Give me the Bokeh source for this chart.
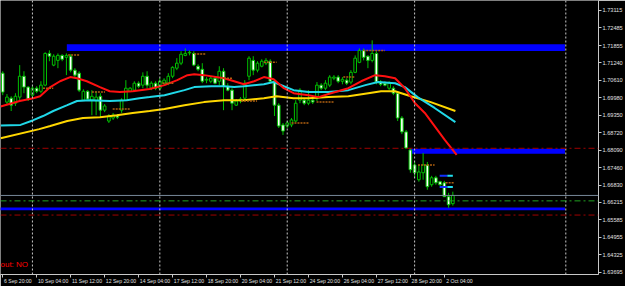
from bokeh.plotting import figure
from bokeh.models import (Range1d, FixedTicker, PrintfTickFormatter, Span, Label,
                          ColumnDataSource, LinearAxis)
from bokeh.embed import file_html
from bokeh.resources import INLINE

# ---------------- data (H4 candles, bar index 0 = 6 Sep 20:00) ----------------
opens = [
    1.7086, 1.6982, 1.6996, 1.6978, 1.7000, 1.7075, 1.7036, 1.7007, 1.7032, 1.7021,
    1.7043, 1.7157, 1.7115, 1.7132, 1.7150, 1.7143, 1.7147, 1.7097, 1.7086, 1.6989,
    1.7021, 1.6989, 1.6986, 1.7003, 1.6953, 1.6914, 1.6925, 1.6935, 1.6953, 1.6989,
    1.7021, 1.7025, 1.7050, 1.7043, 1.7075, 1.7032, 1.7050, 1.7032, 1.7050, 1.7050,
    1.7075, 1.7104, 1.7122, 1.7150, 1.7159, 1.7157, 1.7111, 1.7100, 1.7061, 1.7057,
    1.7068, 1.7057, 1.7093, 1.7039, 1.7025, 1.6971, 1.6986, 1.6996, 1.7075, 1.7132,
    1.7097, 1.7111, 1.7122, 1.7129, 1.7057, 1.6971, 1.6900, 1.6896, 1.6900, 1.6914,
    1.6989, 1.6989, 1.6978, 1.6989, 1.6996, 1.7043, 1.7032, 1.7043, 1.7068, 1.7072,
    1.7057, 1.7061, 1.7054, 1.7089, 1.7125, 1.7168, 1.7147, 1.7132, 1.7157, 1.7054,
    1.7050, 1.7032, 1.7032, 1.7014, 1.6925, 1.6875, 1.6810, 1.6756, 1.6703, 1.6728,
    1.6756, 1.6685, 1.6710, 1.6696, 1.6692, 1.6642, 1.6617]
highs = [
    1.7093, 1.7011, 1.7003, 1.7014, 1.7115, 1.7093, 1.7039, 1.7039, 1.7039, 1.7057,
    1.7161, 1.7168, 1.7154, 1.7157, 1.7154, 1.7157, 1.7154, 1.7104, 1.7093, 1.7028,
    1.7025, 1.7025, 1.7021, 1.7014, 1.6975, 1.6939, 1.6943, 1.6939, 1.6996, 1.7061,
    1.7036, 1.7057, 1.7057, 1.7089, 1.7093, 1.7057, 1.7057, 1.7068, 1.7068, 1.7086,
    1.7111, 1.7140, 1.7165, 1.7175, 1.7168, 1.7165, 1.7118, 1.7122, 1.7072, 1.7075,
    1.7075, 1.7111, 1.7104, 1.7050, 1.7032, 1.6993, 1.7000, 1.7061, 1.7147, 1.7147,
    1.7129, 1.7136, 1.7140, 1.7136, 1.7061, 1.6978, 1.6907, 1.6914, 1.6925, 1.6989,
    1.7032, 1.6996, 1.7025, 1.6996, 1.7054, 1.7050, 1.7061, 1.7079, 1.7079, 1.7079,
    1.7072, 1.7068, 1.7097, 1.7150, 1.7175, 1.7175, 1.7150, 1.7204, 1.7165, 1.7061,
    1.7057, 1.7057, 1.7039, 1.7021, 1.6932, 1.6882, 1.6817, 1.6767, 1.6756, 1.6799,
    1.6767, 1.6717, 1.6717, 1.6699, 1.6699, 1.6656, 1.6660]
lows = [
    1.7007, 1.6971, 1.6950, 1.6968, 1.6989, 1.7014, 1.6986, 1.7000, 1.7014, 1.7014,
    1.7039, 1.7129, 1.7111, 1.7104, 1.7129, 1.7079, 1.7089, 1.7068, 1.7018, 1.6986,
    1.6986, 1.6935, 1.6935, 1.6925, 1.6946, 1.6907, 1.6918, 1.6921, 1.6943, 1.6986,
    1.7018, 1.7018, 1.7032, 1.7032, 1.7032, 1.7025, 1.7025, 1.7025, 1.7043, 1.7043,
    1.7068, 1.7097, 1.7115, 1.7147, 1.7150, 1.7111, 1.7093, 1.7050, 1.7050, 1.7050,
    1.7046, 1.7043, 1.6953, 1.7021, 1.6953, 1.6968, 1.6978, 1.6986, 1.7061, 1.7079,
    1.7089, 1.7107, 1.7115, 1.7050, 1.6932, 1.6889, 1.6864, 1.6889, 1.6892, 1.6910,
    1.6978, 1.6971, 1.6971, 1.6975, 1.6986, 1.7025, 1.7025, 1.7036, 1.7061, 1.7050,
    1.7046, 1.7043, 1.7046, 1.7086, 1.7122, 1.7132, 1.7104, 1.7125, 1.7046, 1.7039,
    1.7039, 1.7025, 1.7007, 1.6914, 1.6867, 1.6814, 1.6728, 1.6710, 1.6696, 1.6703,
    1.6667, 1.6678, 1.6685, 1.6681, 1.6642, 1.6602, 1.6610]
closes = [
    1.7018, 1.7000, 1.6971, 1.7003, 1.7075, 1.7036, 1.6993, 1.7032, 1.7021, 1.7043,
    1.7157, 1.7147, 1.7147, 1.7150, 1.7136, 1.7150, 1.7097, 1.7079, 1.7025, 1.7021,
    1.6993, 1.7003, 1.7000, 1.6953, 1.6968, 1.6932, 1.6935, 1.6928, 1.6989, 1.7032,
    1.7032, 1.7050, 1.7039, 1.7075, 1.7043, 1.7050, 1.7032, 1.7057, 1.7061, 1.7075,
    1.7107, 1.7122, 1.7154, 1.7157, 1.7161, 1.7115, 1.7100, 1.7057, 1.7064, 1.7068,
    1.7050, 1.7093, 1.7039, 1.7025, 1.6978, 1.6986, 1.6993, 1.7050, 1.7140, 1.7097,
    1.7122, 1.7129, 1.7132, 1.7057, 1.6971, 1.6896, 1.6878, 1.6907, 1.6918, 1.6978,
    1.7025, 1.6978, 1.6989, 1.6982, 1.7043, 1.7032, 1.7050, 1.7072, 1.7072, 1.7057,
    1.7064, 1.7050, 1.7089, 1.7140, 1.7168, 1.7143, 1.7132, 1.7157, 1.7054, 1.7046,
    1.7043, 1.7050, 1.7014, 1.6925, 1.6875, 1.6817, 1.6739, 1.6728, 1.6731, 1.6756,
    1.6678, 1.6710, 1.6692, 1.6685, 1.6642, 1.6613, 1.66465]

# moving averages, read at sample bars
red_x = [-0.5, 4, 7.2, 8.8, 11.2, 13.5, 15.9, 17.5, 19.8, 22.9, 25.2, 27.6, 30.6, 34.6,
         38.1, 41.1, 43.5, 45.1, 47.4, 52.1, 54.5, 56.8, 59.2, 61.5, 63.8, 66.2, 68.5,
         72.0, 74.4, 76.7, 81.4, 84.4, 87.7, 90.0, 92.4, 94.7, 97.1, 99.4, 104.1, 106.9]
red_y = [1.6966, 1.6986, 1.6996, 1.7003, 1.7036, 1.7057, 1.7072, 1.7068, 1.7057, 1.7036,
         1.7021, 1.7018, 1.7021, 1.7029, 1.7043, 1.7061, 1.7079, 1.7082, 1.7079, 1.7068,
         1.7057, 1.7046, 1.7057, 1.7072, 1.7064, 1.7032, 1.7014, 1.7007, 1.7000, 1.7011,
         1.7032, 1.7057, 1.7079, 1.7075, 1.7068, 1.7032, 1.6978, 1.6943, 1.6846, 1.6792]
cyan_x = [-0.5, 4.2, 7.2, 9.5, 11.9, 15.2, 17.5, 20.5, 25.2, 29.2, 32.2, 34.6, 38.1, 42.8,
          45.1, 49.1, 52.1, 54.5, 56.8, 61.5, 63.8, 66.2, 68.5, 72.0, 76.7, 81.4, 85.4,
          88.4, 92.4, 94.7, 97.7, 101.7, 106.6]
cyan_y = [1.6898, 1.6900, 1.6917, 1.6932, 1.6950, 1.6971, 1.6986, 1.6989, 1.6986, 1.6989,
          1.6996, 1.7000, 1.7007, 1.7025, 1.7036, 1.7039, 1.7039, 1.7036, 1.7039, 1.7046,
          1.7054, 1.7039, 1.7025, 1.7018, 1.7018, 1.7025, 1.7043, 1.7054, 1.7050, 1.7036,
          1.7000, 1.6961, 1.6910]
yellow_x = [-0.5, 8.6, 11.2, 15.2, 18.9, 22.9, 26.9, 30.6, 34.6, 38.1, 42.8, 47.4, 52.1,
            56.8, 61.5, 64.5, 68.5, 72.0, 76.7, 81.4, 86.1, 89.1, 92.4, 96.1, 100.8, 106.6]
yellow_y = [1.6852, 1.6885, 1.6896, 1.6914, 1.6925, 1.6928, 1.6935, 1.6943, 1.6950, 1.6957,
            1.6971, 1.6982, 1.6989, 1.6989, 1.6996, 1.7003, 1.6996, 1.6996, 1.7000, 1.7003,
            1.7014, 1.7021, 1.7021, 1.7003, 1.6982, 1.6950]

# short dotted level marks (start bar, end bar, price)
lvl_x0 = [15.4, 9.5, 21.0, 25.9, 45.1, 37.6, 51.4, 56.1, 61.5, 84.9, 80.2, 73.9, 68.0, 97.8, 104.3]
lvl_x1 = [18.2, 11.9, 24.1, 29.9, 47.9, 40.4, 54.0, 59.9, 64.5, 90.0, 83.0, 77.9, 72.0, 101.7, 106.4]
lvl_y = [1.7151, 1.7032, 1.7018, 1.6957, 1.7155, 1.7050, 1.7068, 1.6986, 1.7125, 1.7168,
         1.7072, 1.6982, 1.6907, 1.6756, 1.6692]

# zones (left bar, right bar, top, bottom)
zone_left = [15.1, 95.8, -0.6]
zone_right = [132.4, 132.4, 132.4]
zone_top = [1.7190, 1.6814, 1.6603]
zone_bottom = [1.7166, 1.6796, 1.6593]

red_levels = [1.6816, 1.6576]
green_level = 1.6627
bid = 1.66465
week_seps = [7, 37, 67, 97, 132.6]

marker_x0 = [102.9, 104.7, 102.9, 104.7]
marker_x1 = [104.7, 106.0, 104.7, 106.0]
marker_y = [1.6717, 1.6717, 1.6677, 1.6677]
marker_c = ["#1030ff", "#20e0f0", "#1030ff", "#20e0f0"]

price_ticks = [1.73115, 1.72485, 1.71855, 1.71240, 1.70610, 1.69980, 1.69350, 1.68720,
               1.68090, 1.67460, 1.66830, 1.66215, 1.65585, 1.64955, 1.64325, 1.63695]
time_ticks = [0, 8, 16, 24, 32, 40, 48, 56, 64, 72, 80, 88, 96, 104]
time_labels = ["6 Sep 20:00", "10 Sep 04:00", "11 Sep 12:00", "12 Sep 20:00", "14 Sep 04:00",
               "17 Sep 12:00", "18 Sep 20:00", "20 Sep 04:00", "21 Sep 12:00", "24 Sep 20:00",
               "26 Sep 04:00", "27 Sep 12:00", "28 Sep 20:00", "2 Oct 04:00"]

assert len(opens) == len(highs) == len(lows) == len(closes)

PX_PER_BAR = 4.274
FONT = "Liberation Sans"
AX_COL = "#c8c8c8"

# ---------------- figure ----------------
p = figure(width=625, height=286, output_backend="svg", toolbar_location=None,
           x_range=Range1d(-0.52, 140.3), y_range=Range1d(1.63623, 1.73473),
           y_axis_location="right", x_axis_location="below",
           min_border_left=0, min_border_top=0, min_border_right=0, min_border_bottom=0,
           background_fill_color="black", border_fill_color="black", outline_line_color=None)
p.grid.visible = False

ya = p.yaxis[0]
ya.ticker = FixedTicker(ticks=price_ticks)
ya.formatter = PrintfTickFormatter(format="%.5f")
ya.axis_line_color = AX_COL
ya.major_tick_line_color = AX_COL
ya.major_tick_out = 3
ya.major_tick_in = 0
ya.minor_tick_line_color = None
ya.major_label_text_color = "#e0e0e0"
ya.major_label_text_font = FONT
ya.major_label_text_font_size = "5.6px"
ya.major_label_standoff = 1

# bottom axis: tick marks at the bars; its own labels are not drawn
xa = p.xaxis[0]
xa.ticker = FixedTicker(ticks=time_ticks)
xa.major_label_text_color = None
xa.major_label_text_font_size = "1px"
xa.major_label_standoff = 0
xa.axis_line_color = AX_COL
xa.major_tick_line_color = AX_COL
xa.major_tick_out = 3
xa.major_tick_in = 0
xa.minor_tick_line_color = None

# second bottom axis carrying the labels, each label starting at its tick (MT4 style)
char_px = 2.5
label_pos = [t + (len(l) * char_px / 2 + 1.5) / PX_PER_BAR for t, l in zip(time_ticks, time_labels)]
la = LinearAxis(ticker=FixedTicker(ticks=label_pos),
                major_label_overrides={pos: l for pos, l in zip(label_pos, time_labels)},
                axis_line_color=None, major_tick_line_color=None, minor_tick_line_color=None,
                major_tick_out=0, major_tick_in=0,
                major_label_text_color="#e0e0e0", major_label_text_font=FONT,
                major_label_text_font_size="5.1px", major_label_standoff=0)
p.add_layout(la, "below")

# week separators
for s in week_seps:
    p.add_layout(Span(location=s, dimension="height", line_color=AX_COL,
                      line_dash="2 2", line_width=1))

# zones
p.quad(left=zone_left, right=zone_right, top=zone_top, bottom=zone_bottom,
       fill_color="#0000ff", line_color=None)

# horizontal levels
for lv in red_levels:
    p.add_layout(Span(location=lv, dimension="width", line_color="#a00000",
                      line_dash="6 3 2 3", line_width=1))
p.add_layout(Span(location=green_level, dimension="width", line_color="#20a020",
                  line_dash="6 3 2 3", line_width=1))
p.add_layout(Span(location=bid, dimension="width", line_color="#778899", line_width=1))

# candles
idx = list(range(len(opens)))
tops = [max(o, c) for o, c in zip(opens, closes)]
bots = [min(o, c) for o, c in zip(opens, closes)]
fills = ["black" if c >= o else "white" for o, c in zip(opens, closes)]
src = ColumnDataSource(dict(x=idx, h=highs, l=lows, t=tops, b=bots, f=fills))
p.segment(x0="x", y0="h", x1="x", y1="l", source=src, line_color="#00c000", line_width=1)
p.vbar(x="x", width=0.62, top="t", bottom="b", fill_color="f", line_color="#00c000",
       line_width=1, source=src)

# moving averages
p.line(yellow_x, yellow_y, line_color="#ffd700", line_width=2)
p.line(cyan_x, cyan_y, line_color="#20d8e8", line_width=2)
p.line(red_x, red_y, line_color="#ff1010", line_width=2)

# dotted level marks
p.segment(x0=lvl_x0, y0=lvl_y, x1=lvl_x1, y1=lvl_y, line_color="#b06010",
          line_dash="2 1", line_width=1.5)
p.segment(x0=marker_x0, y0=marker_y, x1=marker_x1, y1=marker_y, line_color=marker_c,
          line_width=2)

# labels
p.add_layout(Label(x=140.3, y=bid, x_offset=1, text="1.66465", text_font_size="5.6px",
                   text_font=FONT, text_color="black", text_baseline="middle",
                   background_fill_color="white"))
p.add_layout(Label(x=-0.52, y=1.6398, text="out: NO", text_font_size="8px",
                   text_font=FONT, text_color="#ff0000", text_baseline="middle"))

open("out.html", "w").write(file_html(p, INLINE))
